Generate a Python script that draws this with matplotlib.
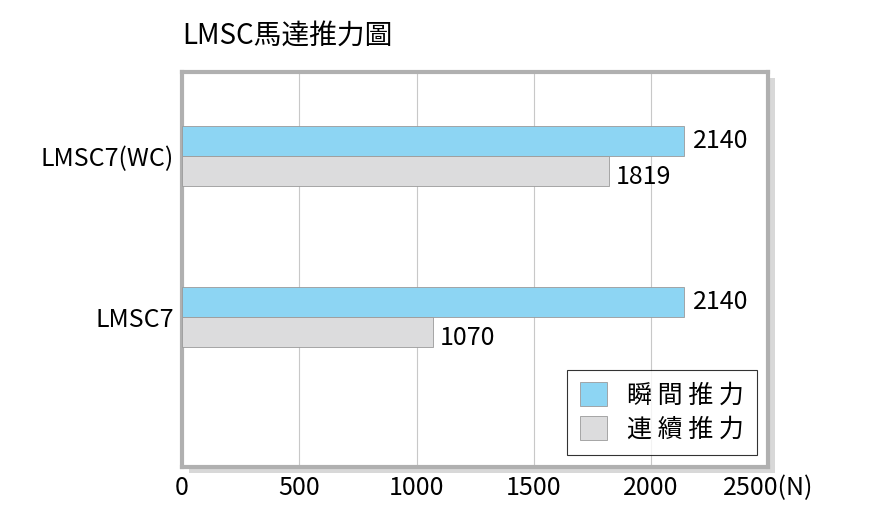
import matplotlib.pyplot as plt
from matplotlib.patches import Rectangle
import numpy as np

plt.rcParams['font.family'] = ['Noto Sans CJK TC', 'Noto Sans CJK JP', 'Noto Sans CJK SC',
                               'Noto Sans CJK KR', 'DejaVu Sans']

categories = ['LMSC7', 'LMSC7(WC)']
peak = [2140, 2140]
continuous = [1070, 1819]
xticks = [0, 500, 1000, 1500, 2000, 2500]
title = 'LMSC馬達推力圖'
series_names = ['瞬間推力', '連續推力']

fig = plt.figure(figsize=(8.75, 5.17), dpi=100)
ax = fig.add_axes([0.208, 0.097, 0.67, 0.764])

y = np.arange(len(categories))
h = 0.186
ax.barh(y + h / 2, peak, height=h, color='#8dd5f3', edgecolor='#9a9a9a', linewidth=0.6, label=series_names[0], zorder=3)
ax.barh(y - h / 2, continuous, height=h, color='#dcdcdd', edgecolor='#9a9a9a', linewidth=0.6, label=series_names[1], zorder=3)

for yi, v in zip(y, peak):
    ax.text(v + 40, yi + h / 2, str(v), va='center', ha='left', fontsize=18)
for yi, v in zip(y, continuous):
    ax.text(v + 30, yi - h / 2 - 0.04, str(v), va='center', ha='left', fontsize=18)

ax.set_xlim(0, 2500)
ax.set_ylim(-0.93, 1.52)
ax.set_xticks(xticks)
ax.set_xticklabels([str(t) for t in xticks[:-1]] + ['2500(N)'], fontsize=18)
ax.set_yticks(y)
ax.set_yticklabels(categories, fontsize=18)
ax.tick_params(length=0, pad=6)
ax.xaxis.grid(True, color='#c8c8c8', linewidth=0.8, zorder=0)

for s in ax.spines.values():
    s.set_color('#b0b0b0')
    s.set_linewidth(3)
# drop shadow
fig.patches.append(Rectangle((0.216, 0.085), 0.67, 0.764, transform=fig.transFigure,
                             facecolor='#d8d8d8', edgecolor='none', zorder=-1))
ax.set_facecolor('white')

leg = ax.legend(loc='lower right', bbox_to_anchor=(0.98, 0.03), fontsize=18, frameon=True,
                fancybox=False, edgecolor='black', handlelength=1.1, handleheight=1.1,
                borderpad=0.5, labelspacing=0.3, borderaxespad=0)
leg.get_frame().set_linewidth(0.8)
for t in leg.get_texts():
    t.set_text(' '.join(t.get_text()))

fig.text(0.208, 0.915, title, fontsize=20, ha='left')

fig.savefig('out.png', dpi=100)
